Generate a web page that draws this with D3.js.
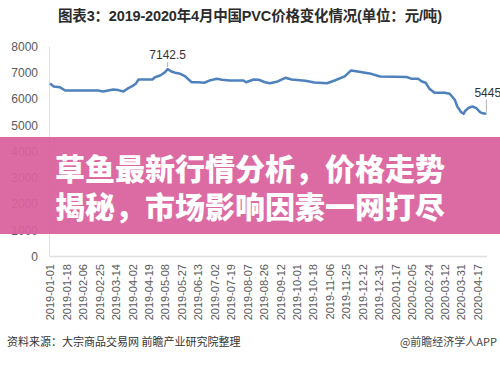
<!DOCTYPE html>
<html>
<head>
<meta charset="utf-8">
<script src="https://cdn.jsdelivr.net/npm/d3@7"></script>
<style>
  body { margin: 0; background: #fff; }
  svg { display: block; font-family: "Liberation Sans", "Noto Sans CJK SC", sans-serif; }
</style>
</head>
<body>
<div id="chart"></div>
<script>
var svgWidth = 500;
var svgHeight = 373;

// trading-day index of each reading, and the price read at it
var dayIndex = [0, 3, 8, 12, 38, 42, 46, 50, 54, 58, 62, 65, 68, 70, 81, 83, 87, 88, 91, 93,
    96, 99, 103, 107, 109, 112, 117, 122, 126, 132, 136, 142, 153, 155, 161, 165, 170, 174,
    180, 186, 191, 202, 209, 219, 225, 233, 238, 242, 249, 254, 261, 282, 286, 291, 294, 297,
    300, 304, 312, 316, 320, 322, 325, 327, 328, 331, 334, 337, 340, 342, 345];
var price = [6600, 6480, 6450, 6330, 6330, 6290, 6330, 6365, 6345, 6290, 6420, 6495, 6600, 6750,
    6750, 6835, 6900, 6930, 7030, 7142.5, 7055, 7005, 6965, 6865, 6775, 6645, 6645, 6625, 6710,
    6775, 6740, 6710, 6710, 6645, 6750, 6740, 6645, 6605, 6675, 6815, 6750, 6700, 6635, 6605,
    6710, 6865, 7095, 7065, 7005, 6965, 6865, 6845, 6775, 6775, 6675, 6625, 6395, 6245, 6245,
    6205, 5975, 5720, 5505, 5440, 5540, 5670, 5720, 5655, 5505, 5460, 5445];

var tickDates = ['2019-01-01', '2019-01-18', '2019-02-06', '2019-02-25', '2019-03-14',
    '2019-04-02', '2019-04-19', '2019-05-08', '2019-05-27', '2019-06-13', '2019-07-02',
    '2019-07-19', '2019-08-07', '2019-08-26', '2019-09-12', '2019-10-01', '2019-10-18',
    '2019-11-06', '2019-11-25', '2019-12-12', '2019-12-31', '2020-01-17', '2020-02-05',
    '2020-02-24', '2020-03-12', '2020-03-31', '2020-04-17'];
var tickStep = 13;
var yTicks = [0, 1000, 2000, 3000, 4000, 5000, 6000, 7000, 8000];

var annotations = [{i: 93, label: '7142.5'}, {i: 345, label: '5445'}];

var data = dayIndex.map(function(d, k) { return {i: d, v: price[k]}; });

var svg = d3.select('#chart').append('svg')
    .attr('width', svgWidth)
    .attr('height', svgHeight);

var x = d3.scaleLinear().domain([0, 345]).range([50, 486.4]);
var y = d3.scaleLinear().domain([0, 8000]).range([256.5, 46.7]);

svg.append('text')
    .attr('x', 250)
    .attr('y', 21)
    .attr('text-anchor', 'middle')
    .attr('font-size', 14.5)
    .attr('font-weight', 'bold')
    .attr('fill', '#2b2b2b')
    .attr('textLength', 384)
    .text('图表3：2019-2020年4月中国PVC价格变化情况(单位：元/吨)');

// axes
svg.append('line')
    .attr('x1', 49.5).attr('x2', 49.5)
    .attr('y1', y(8000)).attr('y2', y(0))
    .attr('stroke', '#e0e0e0');
svg.append('line')
    .attr('x1', 49.5).attr('x2', 487)
    .attr('y1', y(0)).attr('y2', y(0))
    .attr('stroke', '#e0e0e0').attr('stroke-width', 1.5);

var yAxis = svg.append('g')
    .attr('transform', 'translate(38,0)')
    .call(d3.axisLeft(y).tickValues(yTicks).tickSize(0).tickPadding(0).tickFormat(d3.format('d')));
yAxis.select('.domain').remove();
yAxis.selectAll('text')
    .attr('font-size', 12)
    .attr('fill', '#595959')
    .attr('font-family', '"Liberation Sans", sans-serif');

var xTickVals = tickDates.map(function(d, k) { return k * tickStep; });
var xAxis = svg.append('g')
    .attr('transform', 'translate(0,' + 264 + ')')
    .call(d3.axisBottom(x).tickValues(xTickVals).tickSize(0)
        .tickFormat(function(d) { return tickDates[d / tickStep]; }));
xAxis.select('.domain').remove();
xAxis.selectAll('text')
    .attr('font-size', 11)
    .attr('fill', '#595959')
    .attr('font-family', '"Liberation Sans", sans-serif')
    .attr('text-anchor', 'end')
    .attr('transform', 'rotate(-90)')
    .attr('dy', '0.35em')
    .attr('x', 0)
    .attr('y', 0);

// price line
var line = d3.line()
    .x(function(d) { return x(d.i); })
    .y(function(d) { return y(d.v); });

svg.append('path')
    .datum(data)
    .attr('d', line)
    .attr('fill', 'none')
    .attr('stroke', '#4f81bd')
    .attr('stroke-width', 2.5)
    .attr('stroke-linejoin', 'round');

// value labels
annotations.forEach(function(a) {
    var v = price[dayIndex.indexOf(a.i)];
    var px = x(a.i);
    var py = y(v);
    var top = a.i === 93 ? py - 7 : py - 14;
    svg.append('line')
        .attr('x1', px).attr('x2', px)
        .attr('y1', py - 2).attr('y2', top)
        .attr('stroke', '#999').attr('stroke-width', 0.8);
    svg.append('text')
        .attr('x', a.i === 93 ? px : px - 12)
        .attr('y', top - 3)
        .attr('text-anchor', a.i === 93 ? 'middle' : 'start')
        .attr('font-size', 12)
        .attr('fill', '#333')
        .text(a.label);
});

// pink banner
svg.append('rect')
    .attr('x', 0).attr('y', 137)
    .attr('width', svgWidth).attr('height', 97)
    .attr('fill', 'rgb(218,96,156)')
    .attr('fill-opacity', 0.93);

var bannerLines = ['草鱼最新行情分析，价格走势', '揭秘，市场影响因素一网打尽'];
svg.selectAll('.banner')
    .data(bannerLines)
    .enter()
    .append('text')
    .attr('class', 'banner')
    .attr('x', 55)
    .attr('y', function(d, k) { return 180 + k * 38; })
    .attr('font-size', 30)
    .attr('font-weight', 900)
    .attr('fill', '#fff')
    .attr('textLength', 390)
    .attr('font-family', '"Noto Sans CJK SC", sans-serif')
    .text(function(d) { return d; });

// footer
svg.append('text')
    .attr('x', 7).attr('y', 346)
    .attr('font-size', 11)
    .attr('fill', '#333')
    .attr('font-family', '"Noto Sans CJK SC", sans-serif')
    .text('资料来源：大宗商品交易网 前瞻产业研究院整理');
svg.append('text')
    .attr('x', 497).attr('y', 346)
    .attr('text-anchor', 'end')
    .attr('font-size', 11)
    .attr('fill', '#444')
    .attr('font-family', '"Noto Sans CJK SC", sans-serif')
    .text('@前瞻经济学人APP');
</script>
</body>
</html>
